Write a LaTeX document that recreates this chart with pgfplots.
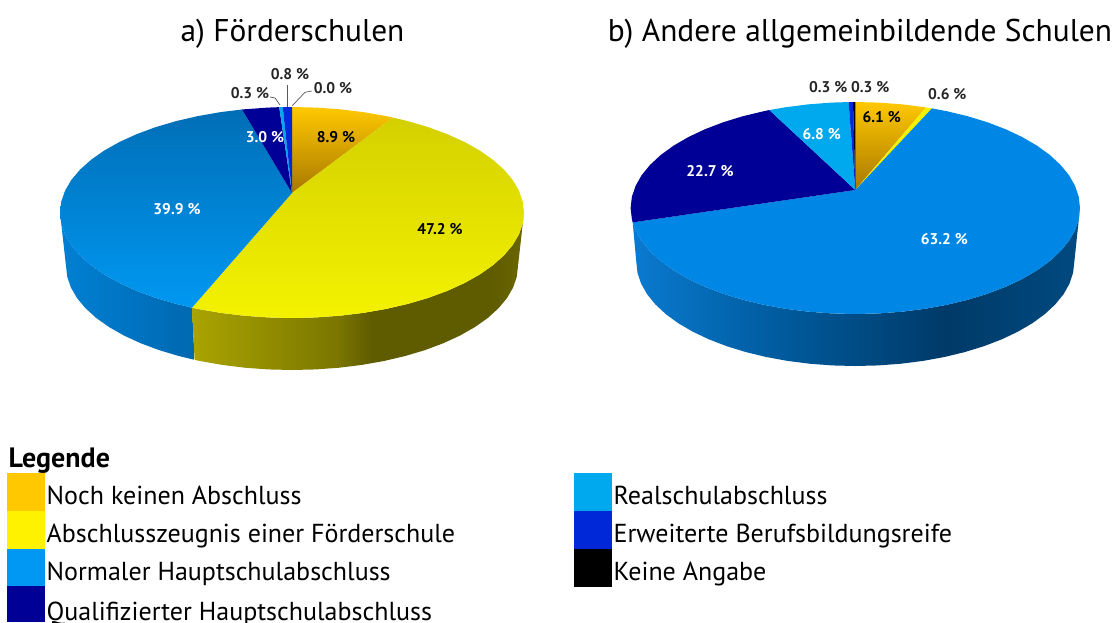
\documentclass[border=0pt]{standalone}
\usepackage{fontspec}
\setmainfont{PT Sans}
\usepackage{pgfplots}
\pgfplotsset{compat=1.18}
\definecolor{cOr}{HTML}{FFC800}
\definecolor{cOrM}{HTML}{E8B400}
\definecolor{cOrD}{HTML}{A87800}
\definecolor{cYe}{HTML}{F4F200}
\definecolor{cYeD}{HTML}{D4D000}
\definecolor{cBl}{HTML}{0098F2}
\definecolor{cBlD}{HTML}{006EB6}
\definecolor{cBm}{HTML}{0087E6}
\definecolor{cNa}{HTML}{000096}
\definecolor{cLi}{HTML}{00A8EE}
\definecolor{cEr}{HTML}{0028D8}
\definecolor{wa}{HTML}{AAA400}
\definecolor{wb}{HTML}{7A7600}
\definecolor{wc}{HTML}{5F5C00}
\definecolor{wd}{HTML}{6A6600}
\definecolor{ba}{HTML}{0080D4}
\definecolor{bb}{HTML}{0068B0}
\definecolor{ra}{HTML}{0A7AD0}
\definecolor{rb}{HTML}{005C9F}
\definecolor{rc}{HTML}{003A68}
\definecolor{rd}{HTML}{004A80}
\pgfdeclarehorizontalshading{wallY}{100bp}{color(0bp)=(wa); color(25bp)=(wa); color(47bp)=(wb); color(52bp)=(wc); color(70bp)=(wc); color(75bp)=(wd); color(100bp)=(wd)}
\pgfdeclarehorizontalshading{wallB}{100bp}{color(0bp)=(ba); color(25bp)=(ba); color(75bp)=(bb); color(100bp)=(bb)}
\pgfdeclarehorizontalshading{wallR}{100bp}{color(0bp)=(ra); color(25bp)=(ra); color(41bp)=(rb); color(60bp)=(rc); color(75bp)=(rd); color(100bp)=(rd)}
\newcommand{\pie}[2]{\addplot[draw=none,#1] table[row sep=\\, x expr=\pcx+\prx*(\thisrow{c}), y expr=\pcy-\pry*(\thisrow{s})] {c s\\ #2} -- cycle;}
\newcommand{\wall}[2]{\addplot[draw=none,#1] table[row sep=\\, x expr=\pcx+(\prx+\pdrx*\thisrow{k})*(\thisrow{c}), y expr=\pcy+\pdy*\thisrow{k}-(\pry+\pdry*\thisrow{k})*(\thisrow{s})] {c s k\\ #2} -- cycle;}
\newcommand{\swatch}[5]{\addplot[draw=none,fill=#1] coordinates {(#2,#3) (#4,#3) (#4,#5) (#2,#5)} -- cycle;}
\newcommand{\lab}[4]{\node[font=\fontsize{15.5}{17}\selectfont\bfseries,text=#1] at (axis cs:#2,#3) {#4};}
\begin{document}
\begin{tikzpicture}
\clip (0,0) rectangle (1115pt,622pt);
\begin{axis}[at={(0,0)},anchor=south west,scale only axis,width=1115pt,height=622pt,
  xmin=0,xmax=1115,ymin=0,ymax=622,y dir=reverse,hide axis,clip=false]
% ---------- a) Foerderschulen
\def\pcx{292}\def\pcy{212.5}\def\prx{232}\def\pry{105.5}\def\pdrx{-6}\def\pdry{-1.5}\def\pdy{53.5}
\wall{shade,shading=wallB}{-1 0 0\\-0.9945 -0.1045 0\\-0.9781 -0.2079 0\\-0.9511 -0.309 0\\-0.9135 -0.4067 0\\-0.866 -0.5 0\\-0.809 -0.5878 0\\-0.7431 -0.6691 0\\-0.6691 -0.7431 0\\-0.5878 -0.809 0\\-0.5 -0.866 0\\-0.431 -0.902 0\\-0.431 -0.902 1\\-0.5 -0.866 1\\-0.5878 -0.809 1\\-0.6691 -0.7431 1\\-0.7431 -0.6691 1\\-0.809 -0.5878 1\\-0.866 -0.5 1\\-0.9135 -0.4067 1\\-0.9511 -0.309 1\\-0.9781 -0.2079 1\\-0.9945 -0.1045 1\\-1 0 1\\}
\wall{shade,shading=wallY}{-0.431 -0.902 0\\-0.4067 -0.9135 0\\-0.309 -0.9511 0\\-0.2079 -0.9781 0\\-0.1045 -0.9945 0\\0 -1 0\\0.1045 -0.9945 0\\0.2079 -0.9781 0\\0.309 -0.9511 0\\0.4067 -0.9135 0\\0.5 -0.866 0\\0.5878 -0.809 0\\0.6691 -0.7431 0\\0.7431 -0.6691 0\\0.809 -0.5878 0\\0.866 -0.5 0\\0.9135 -0.4067 0\\0.9511 -0.309 0\\0.9781 -0.2079 0\\0.9945 -0.1045 0\\1 0 0\\1 0 1\\0.9945 -0.1045 1\\0.9781 -0.2079 1\\0.9511 -0.309 1\\0.9135 -0.4067 1\\0.866 -0.5 1\\0.809 -0.5878 1\\0.7431 -0.6691 1\\0.6691 -0.7431 1\\0.5878 -0.809 1\\0.5 -0.866 1\\0.4067 -0.9135 1\\0.309 -0.9511 1\\0.2079 -0.9781 1\\0.1045 -0.9945 1\\0 -1 1\\-0.1045 -0.9945 1\\-0.2079 -0.9781 1\\-0.309 -0.9511 1\\-0.4067 -0.9135 1\\-0.431 -0.902 1\\}
\pie{top color=cOr,middle color=cOrM,bottom color=cOrD}{0 0.185\\0 1\\0.1045 0.9945\\0.2079 0.9781\\0.309 0.9511\\0.4067 0.9135\\0.435 0.9\\}
\pie{top color=cYeD,bottom color=cYe}{0 0.185\\0.435 0.9\\0.5 0.866\\0.5878 0.809\\0.6691 0.7431\\0.7431 0.6691\\0.809 0.5878\\0.866 0.5\\0.9135 0.4067\\0.9511 0.309\\0.9781 0.2079\\0.9945 0.1045\\1 0\\0.9945 -0.1045\\0.9781 -0.2079\\0.9511 -0.309\\0.9135 -0.4067\\0.866 -0.5\\0.809 -0.5878\\0.7431 -0.6691\\0.6691 -0.7431\\0.5878 -0.809\\0.5 -0.866\\0.4067 -0.9135\\0.309 -0.9511\\0.2079 -0.9781\\0.1045 -0.9945\\0 -1\\-0.1045 -0.9945\\-0.2079 -0.9781\\-0.309 -0.9511\\-0.4067 -0.9135\\-0.431 -0.902\\}
\pie{top color=cBlD,bottom color=cBl}{0 0.185\\-0.431 -0.902\\-0.5 -0.866\\-0.5878 -0.809\\-0.6691 -0.7431\\-0.7431 -0.6691\\-0.809 -0.5878\\-0.866 -0.5\\-0.9135 -0.4067\\-0.9511 -0.309\\-0.9781 -0.2079\\-0.9945 -0.1045\\-1 0\\-0.9945 0.1045\\-0.9781 0.2079\\-0.9511 0.309\\-0.9135 0.4067\\-0.866 0.5\\-0.809 0.5878\\-0.7431 0.6691\\-0.6691 0.7431\\-0.5878 0.809\\-0.5 0.866\\-0.4067 0.9135\\-0.309 0.9511\\-0.2155 0.9765\\}
\pie{fill=cNa}{0 0.185\\-0.2155 0.9765\\-0.1045 0.9945\\-0.055 0.9985\\}
\pie{fill=cLi}{0 0.185\\-0.055 0.9985\\-0.04 0.9992\\}
\pie{fill=cEr}{0 0.185\\-0.04 0.9992\\0 1\\}
\addplot[color=black!65,line width=0.7pt] coordinates {(287.3,85) (287.3,107)};
\addplot[color=black!65,line width=0.7pt] coordinates {(270,97) (275,98) (280,105)};
\addplot[color=black!65,line width=0.7pt] coordinates {(311.7,91) (305,92.3) (292.3,105.7)};
\lab{black}{336}{137}{8.9 \%}
\lab{black}{440}{229}{47.2 \%}
\lab{white}{177}{209}{39.9 \%}
\lab{white}{265}{137}{3.0 \%}
\lab{black!85}{250}{93}{0.3 \%}
\lab{black!85}{290}{74}{0.8 \%}
\lab{black!85}{333}{88}{0.0 \%}
% ---------- b) Andere allgemeinbildende Schulen
\def\pcx{855.3}\def\pcy{208}\def\prx{224.7}\def\pry{106}\def\pdrx{-5.7}\def\pdry{-2}\def\pdy{54}
\wall{shade,shading=wallR}{-0.9907 -0.136 0\\-0.9781 -0.2079 0\\-0.9511 -0.309 0\\-0.9135 -0.4067 0\\-0.866 -0.5 0\\-0.809 -0.5878 0\\-0.7431 -0.6691 0\\-0.6691 -0.7431 0\\-0.5878 -0.809 0\\-0.5 -0.866 0\\-0.4067 -0.9135 0\\-0.309 -0.9511 0\\-0.2079 -0.9781 0\\-0.1045 -0.9945 0\\0 -1 0\\0.1045 -0.9945 0\\0.2079 -0.9781 0\\0.309 -0.9511 0\\0.4067 -0.9135 0\\0.5 -0.866 0\\0.5878 -0.809 0\\0.6691 -0.7431 0\\0.7431 -0.6691 0\\0.809 -0.5878 0\\0.866 -0.5 0\\0.9135 -0.4067 0\\0.9511 -0.309 0\\0.9781 -0.2079 0\\0.9945 -0.1045 0\\1 0 0\\1 0 1\\0.9945 -0.1045 1\\0.9781 -0.2079 1\\0.9511 -0.309 1\\0.9135 -0.4067 1\\0.866 -0.5 1\\0.809 -0.5878 1\\0.7431 -0.6691 1\\0.6691 -0.7431 1\\0.5878 -0.809 1\\0.5 -0.866 1\\0.4067 -0.9135 1\\0.309 -0.9511 1\\0.2079 -0.9781 1\\0.1045 -0.9945 1\\0 -1 1\\-0.1045 -0.9945 1\\-0.2079 -0.9781 1\\-0.309 -0.9511 1\\-0.4067 -0.9135 1\\-0.5 -0.866 1\\-0.5878 -0.809 1\\-0.6691 -0.7431 1\\-0.7431 -0.6691 1\\-0.809 -0.5878 1\\-0.866 -0.5 1\\-0.9135 -0.4067 1\\-0.9511 -0.309 1\\-0.9781 -0.2079 1\\-0.9945 -0.1045 1\\-1 0 1\\}
\pie{top color=cOr,middle color=cOrM,bottom color=cOrD}{0 0.17\\0 1\\0.1045 0.9945\\0.2079 0.9781\\0.3146 0.949\\}
\pie{fill=cYe}{0 0.17\\0.3146 0.949\\0.341 0.94\\}
\pie{fill=cBm}{0 0.17\\0.341 0.94\\0.4067 0.9135\\0.5 0.866\\0.5878 0.809\\0.6691 0.7431\\0.7431 0.6691\\0.809 0.5878\\0.866 0.5\\0.9135 0.4067\\0.9511 0.309\\0.9781 0.2079\\0.9945 0.1045\\1 0\\0.9945 -0.1045\\0.9781 -0.2079\\0.9511 -0.309\\0.9135 -0.4067\\0.866 -0.5\\0.809 -0.5878\\0.7431 -0.6691\\0.6691 -0.7431\\0.5878 -0.809\\0.5 -0.866\\0.4067 -0.9135\\0.309 -0.9511\\0.2079 -0.9781\\0.1045 -0.9945\\0 -1\\-0.1045 -0.9945\\-0.2079 -0.9781\\-0.309 -0.9511\\-0.4067 -0.9135\\-0.5 -0.866\\-0.5878 -0.809\\-0.6691 -0.7431\\-0.7431 -0.6691\\-0.809 -0.5878\\-0.866 -0.5\\-0.9135 -0.4067\\-0.9511 -0.309\\-0.9781 -0.2079\\-0.9907 -0.136\\}
\pie{fill=cNa}{0 0.17\\-0.9907 -0.136\\-0.9945 -0.1045\\-1 0\\-0.9945 0.1045\\-0.9781 0.2079\\-0.9511 0.309\\-0.9135 0.4067\\-0.866 0.5\\-0.809 0.5878\\-0.7431 0.6691\\-0.6691 0.7431\\-0.5878 0.809\\-0.5 0.866\\-0.4067 0.9135\\-0.3827 0.924\\}
\pie{fill=cLi}{0 0.17\\-0.3827 0.924\\-0.309 0.9511\\-0.2079 0.9781\\-0.1045 0.9945\\-0.03 0.9995\\}
\pie{fill=cEr}{0 0.17\\-0.03 0.9995\\-0.0102 0.9999\\}
\pie{fill=black}{0 0.17\\-0.0102 0.9999\\0 1\\}
\lab{black}{881.7}{117}{6.1 \%}
\lab{white}{710}{170.7}{22.7 \%}
\lab{white}{821.7}{134}{6.8 \%}
\lab{white}{944.3}{239}{63.2 \%}
\lab{black!85}{828.3}{87.3}{0.3 \%}
\lab{black!85}{870.3}{87.3}{0.3 \%}
\lab{black!85}{947.3}{94.3}{0.6 \%}
% ---------- titles
\node[anchor=base,font=\fontsize{31.4}{34}\selectfont] at (axis cs:292.5,41) {a) Förderschulen};
\node[anchor=base,font=\fontsize{31.4}{34}\selectfont] at (axis cs:860,41) {b) Andere allgemeinbildende Schulen};
% ---------- legend
\swatch{cOr}{7}{473}{45}{511}
\swatch{yellow}{7}{511}{45}{549}
\swatch{cBl}{7}{549}{45}{586}
\swatch{cNa}{7}{586}{45}{622}
\swatch{cLi}{574}{473}{612}{511}
\swatch{cEr}{574}{511}{612}{549}
\swatch{black}{574}{549}{612}{587}
\node[anchor=base west,inner sep=0pt,font=\fontsize{28}{30}\selectfont\bfseries] at (axis cs:8.5,467) {Legende};
\node[anchor=base west,inner sep=0pt,font=\fontsize{26}{28}\selectfont] at (axis cs:46.5,504) {Noch keinen Abschluss};
\node[anchor=base west,inner sep=0pt,font=\fontsize{26}{28}\selectfont] at (axis cs:46.5,542) {Abschlusszeugnis einer Förderschule};
\node[anchor=base west,inner sep=0pt,font=\fontsize{26}{28}\selectfont] at (axis cs:46.5,580) {Normaler Hauptschulabschluss};
\node[anchor=base west,inner sep=0pt,font=\fontsize{26}{28}\selectfont] at (axis cs:46.5,620) {Qualifizierter Hauptschulabschluss};
\node[anchor=base west,inner sep=0pt,font=\fontsize{26}{28}\selectfont] at (axis cs:613.5,504) {Realschulabschluss};
\node[anchor=base west,inner sep=0pt,font=\fontsize{26}{28}\selectfont] at (axis cs:613.5,542) {Erweiterte Berufsbildungsreife};
\node[anchor=base west,inner sep=0pt,font=\fontsize{26}{28}\selectfont] at (axis cs:613.5,580) {Keine Angabe};
\end{axis}
\end{tikzpicture}
\end{document}
